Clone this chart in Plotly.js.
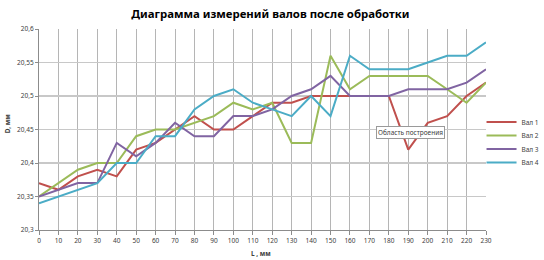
<!DOCTYPE html>
<html>
<head>
<meta charset="utf-8">
<script src="https://cdn.plot.ly/plotly-3.0.1.min.js"></script>
<style>html,body{margin:0;padding:0;background:#fff;}#chart{width:544px;height:260px;}</style>
</head>
<body>
<div id="chart"></div>
<script>
const xValues = [0,10,20,30,40,50,60,70,80,90,100,110,120,130,140,150,160,170,180,190,200,210,220,230];
const val1 = [20.37,20.36,20.38,20.39,20.38,20.42,20.43,20.45,20.47,20.45,20.45,20.47,20.49,20.49,20.50,20.50,20.50,20.50,20.50,20.42,20.46,20.47,20.50,20.52];
const val2 = [20.35,20.37,20.39,20.40,20.40,20.44,20.45,20.45,20.46,20.47,20.49,20.48,20.49,20.43,20.43,20.56,20.51,20.53,20.53,20.53,20.53,20.51,20.49,20.52];
const val3 = [20.35,20.36,20.37,20.37,20.43,20.41,20.43,20.46,20.44,20.44,20.47,20.47,20.48,20.50,20.51,20.53,20.50,20.50,20.50,20.51,20.51,20.51,20.52,20.54];
const val4 = [20.34,20.35,20.36,20.37,20.40,20.40,20.44,20.44,20.48,20.50,20.51,20.49,20.48,20.47,20.50,20.47,20.56,20.54,20.54,20.54,20.55,20.56,20.56,20.58];
const seriesNames = ['Вал 1','Вал 2','Вал 3','Вал 4'];
const seriesColors = ['#C0504D','#9BBB59','#8064A2','#4BACC6'];
const yTickVals = [20.3,20.35,20.4,20.45,20.5,20.55,20.6];
const yTickText = ['20,3','20,35','20,4','20,45','20,5','20,55','20,6'];
const titleText = 'Диаграмма измерений валов после обработки';
const xTitle = 'L , мм';
const yTitle = 'D, мм';
const plotAreaTip = 'Область построения';

const allSeries = [val1,val2,val3,val4];
const legendIds = ['legend','legend2','legend3','legend4'];
const traces = allSeries.map((ys,i)=>({
  x: xValues, y: ys, type:'scatter', mode:'lines', name: seriesNames[i],
  legend: legendIds[i],
  line:{color: seriesColors[i], width:2}
}));

const font = 'Noto Sans, Liberation Sans, sans-serif';
const legendY = [0.537, 0.470, 0.403, 0.336];
const layout = {
  width:544, height:260,
  margin:{l:39, r:58, t:29, b:30, autoexpand:false},
  paper_bgcolor:'#ffffff', plot_bgcolor:'#ffffff',
  separators: ', ',
  font:{family:font, size:7, color:'#404040'},
  title:{text:titleText, font:{family:font, size:11.4, color:'#000000', weight:'bold'}, x:0.497, xanchor:'center', y:0.948, yanchor:'middle'},
  showlegend:true,
  xaxis:{range:[0,230], tickmode:'array', tickvals:xValues, ticktext:xValues.map(String),
    showgrid:true, gridcolor:'#b5b5b5', gridwidth:1, zeroline:false,
    showline:true, linecolor:'#8c8c8c', linewidth:1, ticks:'outside', ticklen:4, tickcolor:'#8c8c8c',
    tickfont:{size:6.5, color:'#404040'}, fixedrange:true, automargin:false},
  yaxis:{range:[20.3,20.6], tickmode:'array', tickvals:yTickVals, ticktext:yTickText,
    showgrid:true, gridcolor:'#c8c8c8', gridwidth:1.5, zeroline:false,
    showline:true, linecolor:'#8c8c8c', linewidth:1, ticks:'outside', ticklen:3, tickcolor:'#8c8c8c',
    tickfont:{size:6.5, color:'#404040'}, fixedrange:true, automargin:false},
  annotations:[
    {text:'<b>'+xTitle+'</b>', xref:'paper', yref:'paper', x:0.497, y:-0.085, xanchor:'center', yanchor:'top', showarrow:false, font:{size:6.5, color:'#404040'}},
    {text:'<b>'+yTitle+'</b>', xref:'paper', yref:'paper', x:-0.07, y:0.53, xanchor:'center', yanchor:'middle', textangle:-90, showarrow:false, font:{size:6.5, color:'#404040'}},
    {text:plotAreaTip, xref:'paper', yref:'paper', x:0.83, y:0.485, xanchor:'center', yanchor:'middle', showarrow:false, font:{size:6.5, color:'#404040'}, bgcolor:'#ffffff', bordercolor:'#9a9a9a', borderwidth:1, borderpad:1}
  ]
};
legendIds.forEach((id,i)=>{
  layout[id] = {x:0.99, xanchor:'left', y:legendY[i], yanchor:'middle', font:{size:6.5, color:'#404040'}, itemwidth:30, bgcolor:'rgba(0,0,0,0)', borderwidth:0};
});
Plotly.newPlot('chart', traces, layout, {displayModeBar:false, staticPlot:true});
</script>
</body>
</html>
